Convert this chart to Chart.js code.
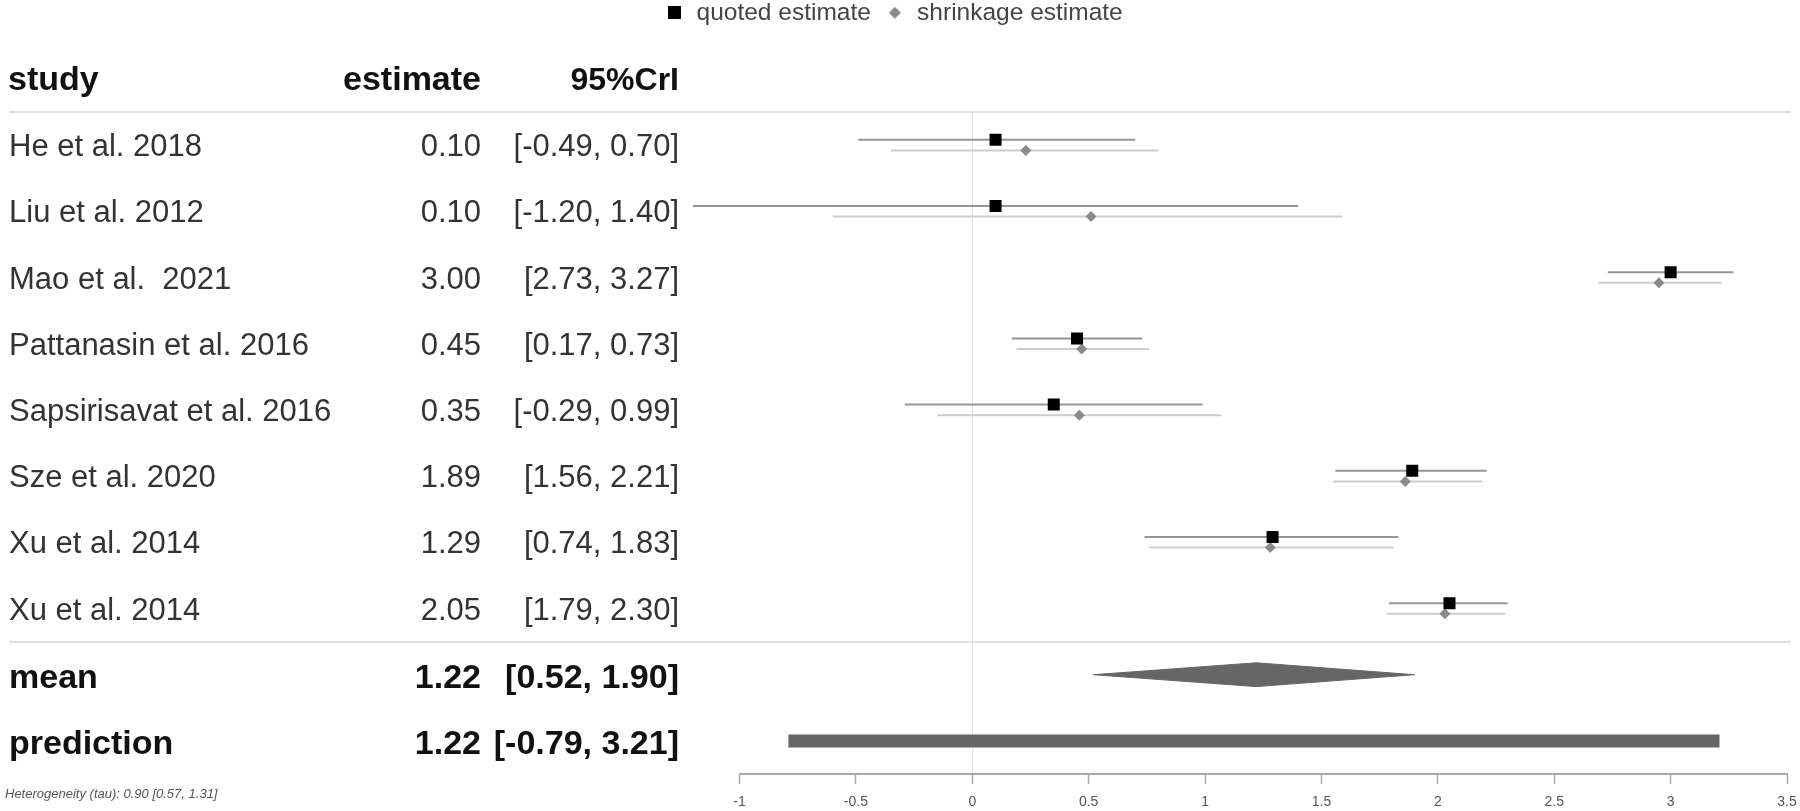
<!DOCTYPE html>
<html>
<head>
<meta charset="utf-8">
<script src="https://cdn.jsdelivr.net/npm/chart.js@4.4.1/dist/chart.umd.min.js"></script>
<style>
html,body{margin:0;padding:0;background:#fff;}
#wrap{width:1800px;height:811px;position:relative;}
</style>
</head>
<body>
<div id="wrap"><canvas id="c" width="1800" height="811"></canvas></div>
<script>
// ---------- data ----------
const studies = ["He et al. 2018", "Liu et al. 2012", "Mao et al.  2021", "Pattanasin et al. 2016",
  "Sapsirisavat et al. 2016", "Sze et al. 2020", "Xu et al. 2014", "Xu et al. 2014"];
const quotedEst = [0.10, 0.10, 3.00, 0.45, 0.35, 1.89, 1.29, 2.05];
const quotedLo  = [-0.49, -1.20, 2.73, 0.17, -0.29, 1.56, 0.74, 1.79];
const quotedHi  = [0.70, 1.40, 3.27, 0.73, 0.99, 2.21, 1.83, 2.30];
const shrinkEst = [0.23, 0.51, 2.95, 0.47, 0.46, 1.86, 1.28, 2.03];
const shrinkLo  = [-0.35, -0.60, 2.69, 0.19, -0.15, 1.55, 0.76, 1.78];
const shrinkHi  = [0.80, 1.59, 3.22, 0.76, 1.07, 2.19, 1.81, 2.29];
const summaryLabels = ["mean", "prediction"];
const summaryEst = [1.22, 1.22];
const summaryLo  = [0.52, -0.79];
const summaryHi  = [1.90, 3.21];
const headerLabels = ["study", "estimate", "95%CrI"];
const legendLabels = ["quoted estimate", "shrinkage estimate"];
const xTickValues = [-1, -0.5, 0, 0.5, 1, 1.5, 2, 2.5, 3, 3.5];
const xTickLabels = ["-1", "-0.5", "0", "0.5", "1", "1.5", "2", "2.5", "3", "3.5"];
const heterogeneityText = "Heterogeneity (tau): 0.90 [0.57, 1.31]";

// ---------- style ----------
const FONT = '"Liberation Sans", Arial, Helvetica, sans-serif';
const OFF = 0.08;       // vertical offset of quoted / shrinkage marks within a row
const DH = 0.18;        // half height of the mean diamond
const meanRow = studies.length, predRow = studies.length + 1;

function markerCanvas(kind, w, h, color) {
  const c = document.createElement('canvas');
  c.width = w; c.height = h;
  const g = c.getContext('2d');
  g.fillStyle = color;
  if (kind === 'square') g.fillRect(0, 0, w, h);
  else { g.beginPath(); g.moveTo(w/2, 0); g.lineTo(w, h/2); g.lineTo(w/2, h); g.lineTo(0, h/2); g.closePath(); g.fill(); }
  return c;
}
const legendSquare = markerCanvas('square', 13, 13, '#000');
const legendDiamond = markerCanvas('diamond', 12, 12, '#8a8a8a');

// ---------- datasets ----------
const datasets = [];
datasets.push({ label: legendLabels[0], data: quotedEst.map((v, i) => ({x: v, y: i - OFF})),
  pointStyle: 'rect', pointRadius: 8.5, backgroundColor: '#000', borderWidth: 0, showLine: false });
datasets.push({ label: legendLabels[1], data: shrinkEst.map((v, i) => ({x: v, y: i + OFF})),
  pointStyle: 'rectRot', pointRadius: 5.5, backgroundColor: '#8a8a8a', borderWidth: 0, showLine: false });
studies.forEach((s, i) => {
  datasets.push({ label: 'q' + i, data: [{x: quotedLo[i], y: i - OFF}, {x: quotedHi[i], y: i - OFF}],
    showLine: true, borderColor: '#969696', borderWidth: 2, pointRadius: 0, fill: false, clip: false });
  datasets.push({ label: 's' + i, data: [{x: shrinkLo[i], y: i + OFF}, {x: shrinkHi[i], y: i + OFF}],
    showLine: true, borderColor: '#cdcdcd', borderWidth: 2, pointRadius: 0, fill: false, clip: false });
});
datasets.push({ label: 'meanTop', data: [{x: summaryLo[0], y: meanRow}, {x: summaryEst[0], y: meanRow - DH}, {x: summaryHi[0], y: meanRow}],
  showLine: true, borderColor: '#666', borderWidth: 1, pointRadius: 0, fill: false });
datasets.push({ label: 'meanBottom', data: [{x: summaryLo[0], y: meanRow}, {x: summaryEst[0], y: meanRow + DH}, {x: summaryHi[0], y: meanRow}],
  showLine: true, borderColor: '#666', borderWidth: 1, pointRadius: 0, fill: '-1', backgroundColor: '#666' });
datasets.push({ label: 'prediction', data: [{x: summaryLo[1], y: predRow}, {x: summaryHi[1], y: predRow}],
  showLine: true, borderColor: '#666', borderWidth: 13, borderCapStyle: 'butt', pointRadius: 0, fill: false });

// ---------- plugins ----------
const legendSpacer = {
  id: 'legendSpacer',
  beforeUpdate(chart) {
    const L = chart.legend;
    if (!L || L._patched) return;
    const orig = L.fit;
    L.fit = function () { orig.call(this); this.height = 125.5; };
    L._patched = true;
  }
};

const table = {
  id: 'table',
  beforeDatasetsDraw(chart) {
    const ctx = chart.ctx, y = chart.scales.y;
    ctx.save();
    ctx.strokeStyle = '#e2e2e2';
    ctx.lineWidth = 2;
    [-0.5, studies.length - 0.5].forEach(v => {
      const py = Math.round(y.getPixelForValue(v));
      ctx.beginPath(); ctx.moveTo(9, py); ctx.lineTo(1791, py); ctx.stroke();
    });
    ctx.restore();
  },
  afterDraw(chart) {
    const ctx = chart.ctx, y = chart.scales.y;
    ctx.save();
    ctx.textBaseline = 'alphabetic';
    // header
    const hy = y.getPixelForValue(-0.5) - 22;
    ctx.font = 'bold 34px ' + FONT;
    ctx.fillStyle = '#111';
    ctx.textAlign = 'left'; ctx.fillText(headerLabels[0], 8, hy);
    ctx.textAlign = 'right'; ctx.fillText(headerLabels[1], 481, hy);
    ctx.font = 'bold 32px ' + FONT;
    ctx.fillText(headerLabels[2], 679, hy);
    // study rows
    ctx.font = '31px ' + FONT;
    ctx.fillStyle = '#333';
    studies.forEach((s, i) => {
      const py = y.getPixelForValue(i) + 11;
      ctx.textAlign = 'left'; ctx.fillText(s, 9, py);
      ctx.textAlign = 'right';
      ctx.fillText(quotedEst[i].toFixed(2), 481, py);
      ctx.fillText('[' + quotedLo[i].toFixed(2) + ', ' + quotedHi[i].toFixed(2) + ']', 679, py);
    });
    // summary rows
    ctx.font = 'bold 34px ' + FONT;
    ctx.fillStyle = '#111';
    summaryLabels.forEach((s, k) => {
      const py = y.getPixelForValue(meanRow + k) + 13;
      ctx.textAlign = 'left'; ctx.fillText(s, 9, py);
      ctx.textAlign = 'right';
      ctx.fillText(summaryEst[k].toFixed(2), 481, py);
      ctx.fillText('[' + summaryLo[k].toFixed(2) + ', ' + summaryHi[k].toFixed(2) + ']', 679, py);
    });
    // heterogeneity
    ctx.font = 'italic 13px ' + FONT;
    ctx.fillStyle = '#555';
    ctx.textAlign = 'left';
    ctx.fillText(heterogeneityText, 5, 798);
    ctx.restore();
  }
};

new Chart(document.getElementById('c'), {
  type: 'scatter',
  data: { datasets },
  options: {
    responsive: false,
    devicePixelRatio: 1,
    animation: false,
    layout: { padding: { top: -13.5, right: 13, bottom: 0, left: 0 } },
    plugins: {
      tooltip: { enabled: false },
      legend: {
        display: true,
        position: 'top',
        align: 'center',
        labels: {
          usePointStyle: true,
          boxWidth: 20,
          boxHeight: 20,
          padding: 14,
          color: '#444',
          font: { family: FONT, size: 24.5 },
          generateLabels: () => [
            { text: legendLabels[0], pointStyle: legendSquare, fillStyle: '#000', strokeStyle: '#000', lineWidth: 0, hidden: false, datasetIndex: 0, fontColor: '#444' },
            { text: legendLabels[1], pointStyle: legendDiamond, fillStyle: '#8a8a8a', strokeStyle: '#8a8a8a', lineWidth: 0, hidden: false, datasetIndex: 1, fontColor: '#444' }
          ]
        },
        onClick: () => {}
      }
    },
    scales: {
      x: {
        type: 'linear',
        position: 'bottom',
        min: xTickValues[0],
        max: xTickValues[xTickValues.length - 1],
        afterBuildTicks: s => { s.ticks = xTickValues.map(v => ({ value: v })); },
        afterFit: s => { s.height = 37; s.paddingRight = 0; s.paddingLeft = 0; },
        ticks: {
          autoSkip: false,
          maxRotation: 0,
          padding: 10,
          color: '#555',
          font: { family: FONT, size: 14 },
          callback: (v, i) => xTickLabels[i]
        },
        grid: {
          drawOnChartArea: true,
          color: c => (c.tick && c.tick.value === 0) ? '#e6e6e6' : 'rgba(0,0,0,0)',
          lineWidth: 1,
          drawTicks: true,
          tickLength: 10,
          tickColor: '#aaa',
          tickWidth: 1.5
        },
        border: { display: true, color: '#aaa', width: 2 }
      },
      y: {
        type: 'linear',
        position: 'left',
        reverse: true,
        min: -0.5,
        max: predRow + 0.5,
        afterFit: s => { s.width = 739.5; },
        ticks: { display: false },
        grid: { display: false },
        border: { display: false }
      }
    }
  },
  plugins: [legendSpacer, table]
});
</script>
</body>
</html>
